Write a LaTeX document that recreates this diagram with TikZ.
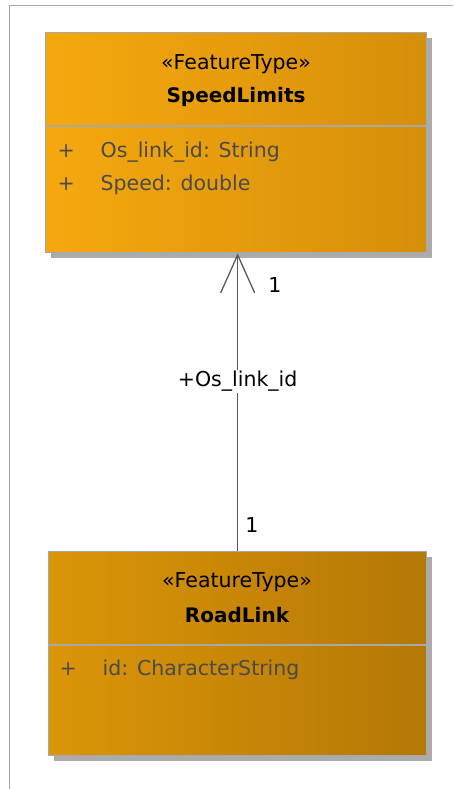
\documentclass[tikz,border=0pt]{standalone}
\usepackage{fontspec}
\setmainfont{DejaVu Sans}
\usetikzlibrary{arrows.meta,positioning,shadows}
\definecolor{edge}{HTML}{A8A8A8}
\definecolor{attrc}{HTML}{4A4A4A}
\definecolor{orA}{HTML}{F5A80E}
\definecolor{orB}{HTML}{D68F0A}
\definecolor{orC}{HTML}{DB9508}
\definecolor{orD}{HTML}{B57806}

\begin{document}
\begin{tikzpicture}[x=1pt,y=-1pt,font=\fontsize{20.5}{24}\selectfont,
 cls/.style={draw=edge,line width=1.3pt,anchor=north west,inner sep=0pt,drop shadow={shadow xshift=5pt,shadow yshift=-5pt,fill=black!33,opacity=1}},
 attr/.style={anchor=west,text=attrc},
 title/.style={font=\fontsize{20}{24}\selectfont\bfseries}]
 \useasboundingbox (0,0) rectangle (453,789);
 \draw[edge,line width=1pt] (453,6) -- (9,6) -- (9,789);
 % SpeedLimits
 \node (sl) [cls,minimum width=381pt,minimum height=220pt,left color=orA,right color=orB] at (45,32) {};
 \draw[edge,line width=1.3pt] (sl.west |- 0,126) -- (sl.east |- 0,126);
 \node (slst) at (236,64) {«FeatureType»};
 \node (slnm) [title] at (236,97) {SpeedLimits};
 \node (sla1) [attr] at (54,152) {+\hspace{26pt}Os\_link\_id: String};
 \node (sla2) [attr] at (54,185) {+\hspace{26pt}Speed: double};
 % RoadLink
 \node (rl) [cls,minimum width=378pt,minimum height=204pt,left color=orC,right color=orD] at (48,551) {};
 \draw[edge,line width=1.3pt] (rl.west |- 0,645) -- (rl.east |- 0,645);
 \node (rlst) at (237,582) {«FeatureType»};
 \node (rlnm) [title] at (237,615) {RoadLink};
 \node (rla1) [attr] at (56,670) {+\hspace{26pt}id: CharacterString};
 % association
 \draw[-{Straight Barb[length=38pt,width=34pt]},black!65,line width=1.3pt] (rl.north) -- (rl.north |- sl.south)
   node (asl) [pos=.57,fill=white,text=black,inner sep=1pt] {+Os\_link\_id};
 \node (m1) at (275,285) {1};
 \node (m2) at (252,525) {1};
\end{tikzpicture}
\end{document}
